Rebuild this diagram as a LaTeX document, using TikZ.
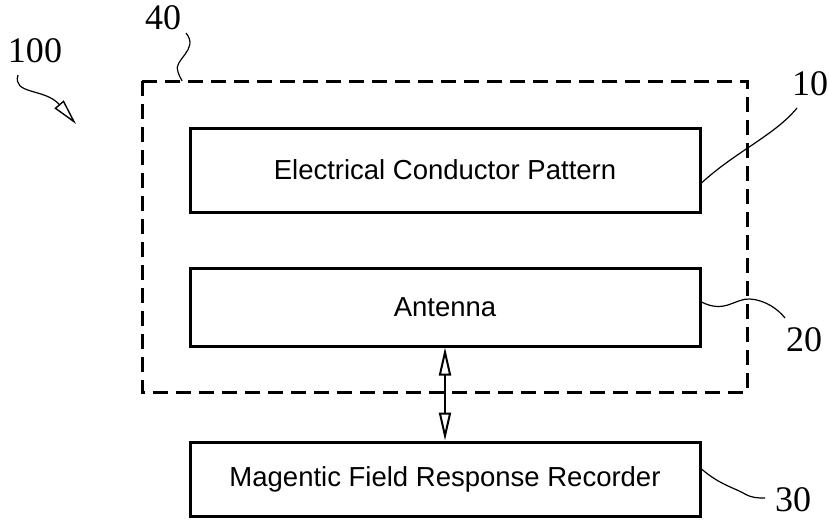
\documentclass[tikz,border=0pt]{standalone}
\usepackage{fontspec}
\setmainfont{Liberation Serif}
\newfontfamily\boxfont{Liberation Sans}
\usetikzlibrary{arrows.meta}
\tikzset{
  blockbox/.style={draw, line width=3pt, minimum width=510pt, inner sep=0pt, font=\boxfont\fontsize{27.5}{32}\selectfont},
  groupbox/.style={draw, line width=3pt, dash pattern=on 15pt off 8pt},
  refnum/.style={font=\fontsize{36}{40}\selectfont, inner sep=0pt},
  leader/.style={line width=1.2pt},
  openarrow/.style={line width=2.2pt, {Triangle[open,length=28pt,width=12pt,line width=2pt]}-{Triangle[open,length=28pt,width=12pt,line width=2pt]}},
}
\begin{document}
\begin{tikzpicture}[x=1pt,y=-1pt]
\useasboundingbox (0,0) rectangle (829,523);
% group box 40
\draw[groupbox] (142,81) rectangle (747,392);
\coordinate (g40) at (182,81);
% blocks
\node[blockbox, minimum height=84pt] (b10) at (445,170) {Electrical Conductor Pattern};
\node[blockbox, minimum height=78pt] (b20) at (445,307) {Antenna};
\node[blockbox, minimum height=74pt] (b30) at (445,479) {Magentic Field Response Recorder};
% double arrow
\draw[openarrow] (b20.south) -- (b30.north);
% reference numerals
\node[refnum] (n100) at (35,51) {100};
\node[refnum] (n40) at (163,18) {40};
\node[refnum] (n10) at (810,84) {10};
\node[refnum] (n20) at (804,340) {20};
\node[refnum] (n30) at (793,500) {30};
% leaders
\coordinate (a100s) at (18,75);
\coordinate (a100e) at (76,124);
\draw[leader, -{Triangle[open,length=26pt,width=12pt,line width=1.4pt]}] (a100s) .. controls (12,95) and (45,88) .. (a100e);
\coordinate (l40s) at (186,33);
\draw[leader] (l40s) .. controls (200,50) and (172,60) .. (178,72) .. controls (180,78) and (182,80) .. (g40);
\coordinate (l10e) at (797,108);
\draw[leader] ([yshift=-13pt]b10.east) .. controls (735,152) and (775,135) .. (l10e);
\coordinate (l20e) at (785,318);
\draw[leader] ([yshift=5pt]b20.east) .. controls (725,314) and (735,298) .. (750,299) .. controls (765,300) and (778,309) .. (l20e);
\coordinate (l30e) at (765,498);
\draw[leader] ([yshift=10pt]b30.east) .. controls (720,485) and (735,488) .. (745,494) .. controls (752,498) and (758,498) .. (l30e);
\end{tikzpicture}
\end{document}
